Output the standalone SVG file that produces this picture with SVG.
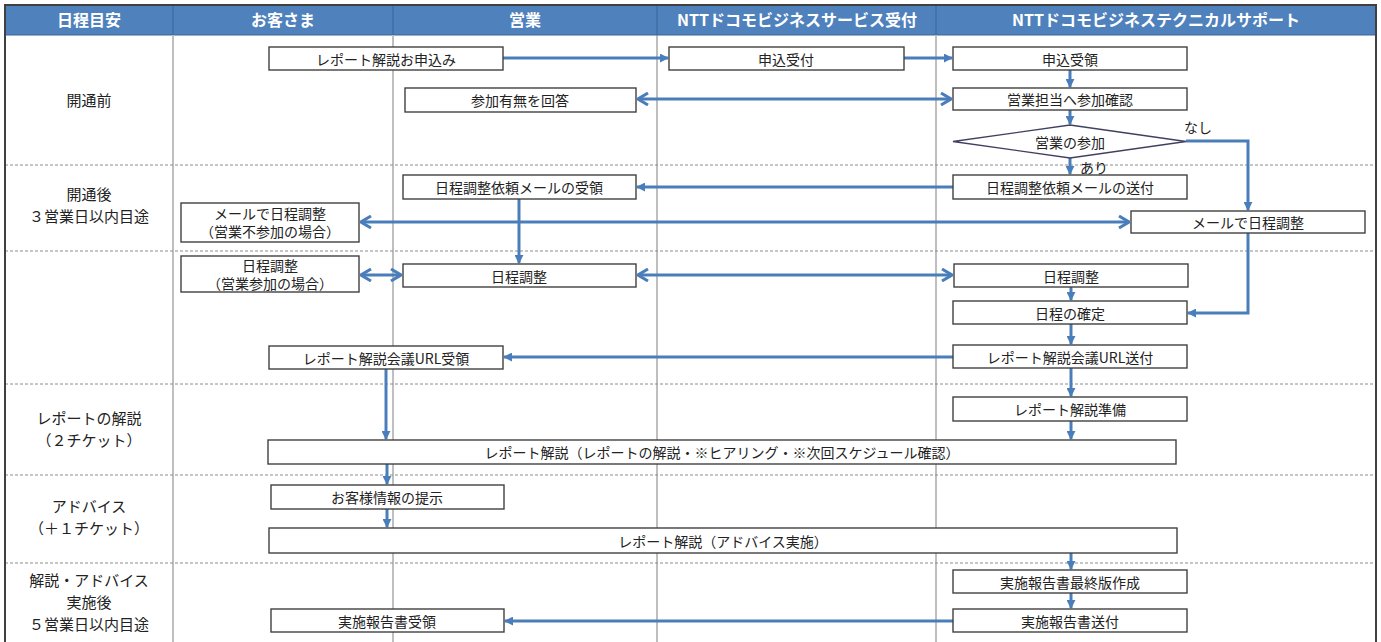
<svg xmlns="http://www.w3.org/2000/svg" width="1381" height="642" viewBox="0 0 1381 642">
<defs>
<style>
.hdr{fill:#4f81bd}
.hdrt{font-family:"Noto Sans CJK JP","Noto Sans",sans-serif;font-size:16px;font-weight:bold;fill:#fff;text-anchor:middle}
.lbl{font-family:"Noto Sans CJK JP","Noto Sans",sans-serif;font-size:15px;fill:#222;text-anchor:middle}
.t{font-family:"Noto Sans CJK JP","Noto Sans",sans-serif;font-size:14px;fill:#222;text-anchor:middle;dominant-baseline:central}
.box{fill:#fff;stroke:#404040;stroke-width:1.4}
.dash{stroke:#8c8c8c;stroke-width:1;stroke-dasharray:3,2}
.vl{stroke:#bfbfbf;stroke-width:2}
.vd{stroke:#7f7f7f;stroke-width:1}
.c{fill:none;stroke:#4a7ebb;stroke-width:3}
</style>
<marker id="tri" viewBox="0 0 10 10" refX="9" refY="5" markerWidth="9" markerHeight="9" markerUnits="userSpaceOnUse" orient="auto-start-reverse">
<path d="M0,0 L10,5 L0,10 z" fill="#4a7ebb"/>
</marker>
<marker id="chev" viewBox="0 0 12 14" refX="11" refY="7" markerWidth="12" markerHeight="14" markerUnits="userSpaceOnUse" orient="auto-start-reverse">
<path d="M1,1 L11,7 L1,13" fill="none" stroke="#4a7ebb" stroke-width="3"/>
</marker>
</defs>
<rect x="0" y="0" width="1381" height="642" fill="#fff"/>
<g id="grid">
<rect class="hdr" x="5" y="5" width="1371" height="30"/>
<line x1="173" y1="5" x2="173" y2="35" stroke="#3a6598" stroke-width="1"/>
<line x1="393" y1="5" x2="393" y2="35" stroke="#3a6598" stroke-width="1"/>
<line x1="657" y1="5" x2="657" y2="35" stroke="#3a6598" stroke-width="1"/>
<line x1="936" y1="5" x2="936" y2="35" stroke="#3a6598" stroke-width="1"/>
<line x1="5" y1="35" x2="1376" y2="35" stroke="#3a6598" stroke-width="1"/>
<line class="vl" x1="173" y1="35" x2="173" y2="642"/>
<line class="vl" x1="393" y1="35" x2="393" y2="642"/>
<line class="vd" x1="657" y1="35" x2="657" y2="642"/>
<line class="vl" x1="936" y1="35" x2="936" y2="642"/>
<line class="dash" x1="5" y1="165" x2="1376" y2="165"/>
<line class="dash" x1="5" y1="251" x2="1376" y2="251"/>
<line class="dash" x1="5" y1="384" x2="1376" y2="384"/>
<line class="dash" x1="5" y1="475" x2="1376" y2="475"/>
<line class="dash" x1="5" y1="563" x2="1376" y2="563"/>
<path d="M5,642 V5 H1376 V642" fill="none" stroke="#404040" stroke-width="2"/>
<text class="hdrt" x="89" y="26">日程目安</text>
<text class="hdrt" x="283" y="26">お客さま</text>
<text class="hdrt" x="525" y="26">営業</text>
<text class="hdrt" x="797" y="26">NTTドコモビジネスサービス受付</text>
<text class="hdrt" x="1156" y="26">NTTドコモビジネステクニカルサポート</text>
<text class="lbl" x="89" y="106">開通前</text>
<text class="lbl" x="89" y="200">開通後</text>
<text class="lbl" x="89" y="222">３営業日以内目途</text>
<text class="lbl" x="89" y="424">レポートの解説</text>
<text class="lbl" x="89" y="446">（２チケット）</text>
<text class="lbl" x="89" y="512">アドバイス</text>
<text class="lbl" x="89" y="534">（＋１チケット）</text>
<text class="lbl" x="89" y="586">解説・アドバイス</text>
<text class="lbl" x="89" y="608">実施後</text>
<text class="lbl" x="89" y="630">５営業日以内目途</text>
</g>
<g id="connectors">
<line class="c" x1="503" y1="58" x2="668" y2="58" marker-end="url(#tri)"/>
<line class="c" x1="904" y1="58" x2="952" y2="58" marker-end="url(#tri)"/>
<line class="c" x1="1070" y1="70" x2="1070" y2="87" marker-end="url(#tri)"/>
<line class="c" x1="638" y1="99" x2="951" y2="99" marker-start="url(#chev)" marker-end="url(#chev)"/>
<line class="c" x1="1070" y1="110" x2="1070" y2="124" marker-end="url(#tri)"/>
<line class="c" x1="1070" y1="158" x2="1070" y2="174" marker-end="url(#tri)"/>
<polyline class="c" points="1186,141 1248,141 1248,210" marker-end="url(#tri)"/>
<line class="c" x1="953" y1="187" x2="637" y2="187" marker-end="url(#tri)"/>
<line class="c" x1="361" y1="222" x2="1129" y2="222" marker-start="url(#chev)" marker-end="url(#chev)"/>
<line class="c" x1="519" y1="199" x2="519" y2="263" marker-end="url(#tri)"/>
<line class="c" x1="361" y1="275" x2="401" y2="275" marker-start="url(#chev)" marker-end="url(#chev)"/>
<line class="c" x1="638" y1="275" x2="952" y2="275" marker-start="url(#chev)" marker-end="url(#chev)"/>
<line class="c" x1="1071" y1="287" x2="1071" y2="300" marker-end="url(#tri)"/>
<polyline class="c" points="1248,233 1248,313 1188,313" marker-end="url(#tri)"/>
<line class="c" x1="1071" y1="324" x2="1071" y2="344" marker-end="url(#tri)"/>
<line class="c" x1="953" y1="357" x2="504" y2="357" marker-end="url(#tri)"/>
<line class="c" x1="386" y1="369" x2="386" y2="439" marker-end="url(#tri)"/>
<line class="c" x1="1071" y1="368" x2="1071" y2="396" marker-end="url(#tri)"/>
<line class="c" x1="1071" y1="421" x2="1071" y2="439" marker-end="url(#tri)"/>
<line class="c" x1="387" y1="464" x2="387" y2="484" marker-end="url(#tri)"/>
<line class="c" x1="387" y1="509" x2="387" y2="527" marker-end="url(#tri)"/>
<line class="c" x1="1071" y1="553" x2="1071" y2="569" marker-end="url(#tri)"/>
<line class="c" x1="1071" y1="593" x2="1071" y2="608" marker-end="url(#tri)"/>
<line class="c" x1="953" y1="621" x2="505" y2="621" marker-end="url(#tri)"/>
<text class="t" x="1198" y="127">なし</text>
<text class="t" x="1094" y="167">あり</text>
</g>
<g id="n1"><rect class="box" x="269" y="47" width="234" height="23"/><text class="t" x="386" y="58.5">レポート解説お申込み</text></g>
<g id="n2"><rect class="box" x="669" y="47" width="235" height="23"/><text class="t" x="786" y="58.5">申込受付</text></g>
<g id="n3"><rect class="box" x="953" y="47" width="234" height="23"/><text class="t" x="1070" y="58.5">申込受領</text></g>
<g id="n4"><rect class="box" x="405" y="88" width="231" height="24"/><text class="t" x="520" y="100">参加有無を回答</text></g>
<g id="n5"><rect class="box" x="953" y="88" width="234" height="22"/><text class="t" x="1070" y="99">営業担当へ参加確認</text></g>
<g id="n6"><polygon points="953,141.5 1070,125 1186,141.5 1070,158" fill="#fff" stroke="#404060" stroke-width="1.4"/><text class="t" x="1070" y="141.5">営業の参加</text></g>
<g id="n7"><rect class="box" x="403" y="175" width="233" height="24"/><text class="t" x="519" y="187">日程調整依頼メールの受領</text></g>
<g id="n8"><rect class="box" x="953" y="175" width="234" height="24"/><text class="t" x="1070" y="187">日程調整依頼メールの送付</text></g>
<g id="n9"><rect class="box" x="181" y="203" width="178" height="39"/><text class="t" x="270" y="213">メールで日程調整</text><text class="t" x="270" y="231">（営業不参加の場合）</text></g>
<g id="n10"><rect class="box" x="1131" y="211" width="234" height="22"/><text class="t" x="1248" y="222">メールで日程調整</text></g>
<g id="n11"><rect class="box" x="181" y="256" width="178" height="36"/><text class="t" x="270" y="265">日程調整</text><text class="t" x="270" y="283">（営業参加の場合）</text></g>
<g id="n12"><rect class="box" x="403" y="264" width="233" height="23"/><text class="t" x="519" y="275.5">日程調整</text></g>
<g id="n13"><rect class="box" x="954" y="264" width="234" height="23"/><text class="t" x="1071" y="275.5">日程調整</text></g>
<g id="n14"><rect class="box" x="953" y="301" width="234" height="23"/><text class="t" x="1070" y="312.5">日程の確定</text></g>
<g id="n15"><rect class="box" x="269" y="346" width="234" height="23"/><text class="t" x="386" y="357.5">レポート解説会議URL受領</text></g>
<g id="n16"><rect class="box" x="953" y="345" width="234" height="23"/><text class="t" x="1070" y="356.5">レポート解説会議URL送付</text></g>
<g id="n17"><rect class="box" x="953" y="397" width="234" height="24"/><text class="t" x="1070" y="409">レポート解説準備</text></g>
<g id="n18"><rect class="box" x="268" y="440" width="908" height="24"/><text class="t" x="722" y="452">レポート解説（レポートの解説・※ヒアリング・※次回スケジュール確認）</text></g>
<g id="n19"><rect class="box" x="271" y="485" width="233" height="24"/><text class="t" x="387" y="497">お客様情報の提示</text></g>
<g id="n20"><rect class="box" x="269" y="528" width="908" height="25"/><text class="t" x="723" y="540.5">レポート解説（アドバイス実施）</text></g>
<g id="n21"><rect class="box" x="953" y="570" width="234" height="23"/><text class="t" x="1070" y="581.5">実施報告書最終版作成</text></g>
<g id="n22"><rect class="box" x="953" y="609" width="234" height="23"/><text class="t" x="1070" y="620.5">実施報告書送付</text></g>
<g id="n23"><rect class="box" x="271" y="609" width="233" height="23"/><text class="t" x="387" y="620.5">実施報告書受領</text></g>
</svg>
